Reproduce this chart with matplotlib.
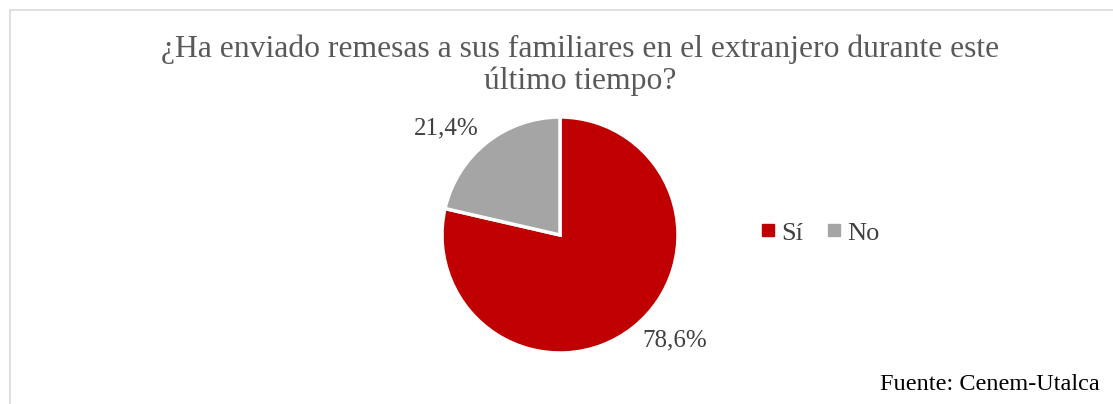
import numpy as np
import matplotlib
matplotlib.use("Agg")
import matplotlib.pyplot as plt
from matplotlib.patches import Rectangle
from matplotlib.lines import Line2D

# data
categories = ["Sí", "No"]
values = [78.6, 21.4]
colors = ["#C00000", "#A5A5A5"]
title = "¿Ha enviado remesas a sus familiares en el extranjero durante este\núltimo tiempo?"
source = "Fuente: Cenem-Utalca"

plt.rcParams['font.family'] = ['Liberation Serif', 'DejaVu Serif']

W, H = 1113, 404
fig = plt.figure(figsize=(W / 100, H / 100), dpi=100)

# light frame round the chart area
fig.patches.append(Rectangle((10 / W, -0.1), 1.2, 1 - 10 / H + 0.1, transform=fig.transFigure,
                             fill=False, edgecolor="#D9D9D9", linewidth=1.2))

cx, cy, r = 560, 235, 118
ax = fig.add_axes([(cx - r) / W, (H - cy - r) / H, 2 * r / W, 2 * r / H])
wedges, _ = ax.pie(values, colors=colors, startangle=90, counterclock=False,
                   wedgeprops=dict(edgecolor="white", linewidth=2.5))
ax.set_xlim(-1, 1)
ax.set_ylim(-1, 1)
ax.set_aspect("equal")
ax.axis("off")

# percentage labels, placed outside the slices (shifted like Excel's best fit)
shift = [8.8, 8.5]
for w, v, s in zip(wedges, values, shift):
    mid = np.deg2rad((w.theta1 + w.theta2) / 2 + s)
    ax.text(1.32 * np.cos(mid), 1.32 * np.sin(mid), f"{v:.1f}%".replace(".", ","),
            ha="center", va="center", fontsize=18, color="#404040", clip_on=False)

fig.text(0.521, 1 - 65 / H, title, ha="center", va="center", fontsize=22.8,
         color="#595959", linespacing=1.1)

handles = [Line2D([], [], marker="s", linestyle="", markersize=8, color=c) for c in colors]
fig.legend(handles, categories, loc="center", bbox_to_anchor=(818 / W, 1 - 233 / H), ncol=2,
           frameon=False, fontsize=19, handletextpad=0.05, columnspacing=0.7,
           labelcolor="#404040", handlelength=0.9)

fig.text(1100 / W, 1 - 385 / H, source, ha="right", va="center", fontsize=17.5, color="black")

fig.savefig("out.png", dpi=100)
